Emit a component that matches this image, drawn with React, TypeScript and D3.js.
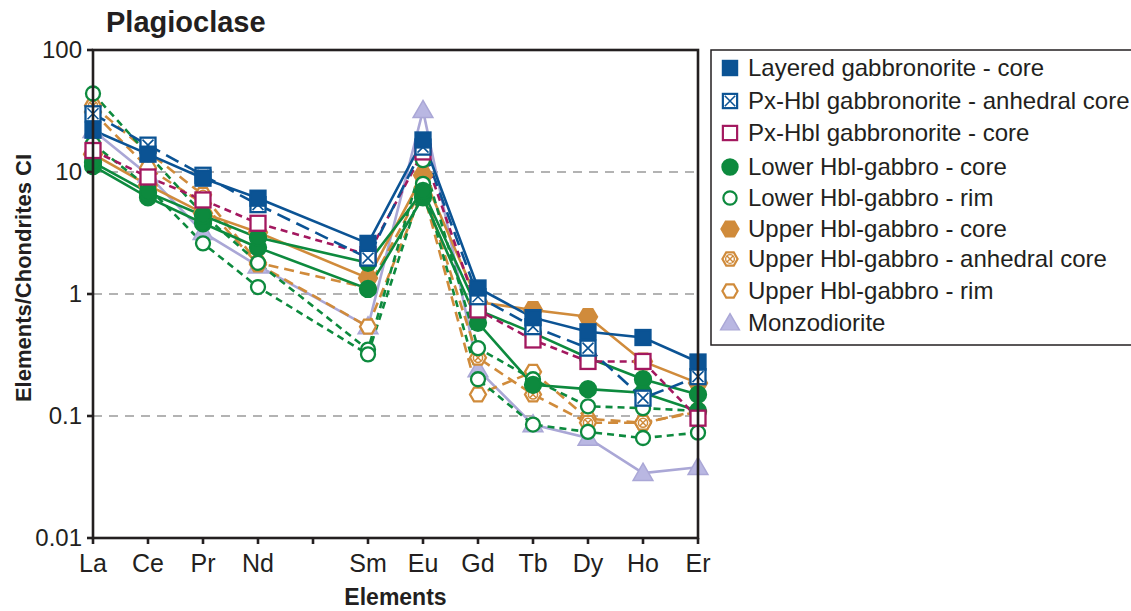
import React from "react";
import * as d3 from "d3";

// REE order, Pm is an empty slot on the axis
const elements = ["La", "Ce", "Pr", "Nd", "Pm", "Sm", "Eu", "Gd", "Tb", "Dy", "Ho", "Er"];
const plotted = ["La", "Ce", "Pr", "Nd", "Sm", "Eu", "Gd", "Tb", "Dy", "Ho", "Er"];
const yTicks = [0.01, 0.1, 1, 10, 100];
const gridLines = [0.1, 1, 10];

// values per sample, in plotted order
const layeredCore = [[22, 14, 8.9, 6.1, 2.6, 18.3, 1.12, 0.64, 0.49, 0.44, 0.277]];
const pxAnhedral = [[30, 16.6, 9.4, 5.4, 1.97, 16, 0.95, 0.54, 0.36, 0.14, 0.21]];
const pxCore = [[15, 9.1, 5.9, 3.8, 2.1, 14.6, 0.74, 0.42, 0.28, 0.28, 0.096]];
const lowerCore = [
  [11.2, 6.2, 3.8, 2.4, 1.1, 6.2, 0.58, 0.18, 0.166, 0.155, 0.11],
  [12, 6.8, 4.4, 2.9, 1.8, 7, 0.74, 0.48, 0.3, 0.2, 0.15],
];
const lowerRim = [
  [44, 14, 4.5, 1.8, 0.35, 12.5, 0.36, 0.2, 0.12, 0.116, 0.11],
  [17, 7.5, 2.6, 1.14, 0.32, 8, 0.2, 0.085, 0.074, 0.066, 0.073],
];
const upperCore = [[14, 7.8, 4.6, 3.2, 1.35, 9.4, 0.86, 0.74, 0.65, 0.28, 0.186]];
const upperAnhedral = [[35, 14.6, 6.5, 1.8, 1.12, 7.5, 0.3, 0.15, 0.088, 0.088, 0.108]];
const upperRim = [[31, 10.8, 5.5, 1.75, 0.54, 7, 0.15, 0.23, 0.095, 0.088, 0.11]];
const monzodiorite = [[22, 9.5, 3.2, 1.7, 0.54, 32, 0.24, 0.085, 0.066, 0.034, 0.038]];

const BLUE = "#0b5394";
const MAG = "#a3185f";
const GREEN = "#0d8a3e";
const ORANGE = "#d08b3b";
const LAV = "#aaa7d6";

const series = [
  { name: "Layered gabbronorite - core", data: layeredCore, color: BLUE, dash: "", marker: "square", fill: true },
  { name: "Px-Hbl gabbronorite - anhedral core", data: pxAnhedral, color: BLUE, dash: "14,7", marker: "squareX", fill: false },
  { name: "Px-Hbl gabbronorite - core", data: pxCore, color: MAG, dash: "7,5", marker: "square", fill: false },
  { name: "Lower Hbl-gabbro - core", data: lowerCore, color: GREEN, dash: "", marker: "circle", fill: true },
  { name: "Lower Hbl-gabbro - rim", data: lowerRim, color: GREEN, dash: "7,5", marker: "circle", fill: false },
  { name: "Upper Hbl-gabbro - core", data: upperCore, color: ORANGE, dash: "", marker: "hex", fill: true },
  { name: "Upper Hbl-gabbro - anhedral core", data: upperAnhedral, color: ORANGE, dash: "10,6", marker: "hexX", fill: false },
  { name: "Upper Hbl-gabbro - rim", data: upperRim, color: ORANGE, dash: "10,6", marker: "hex", fill: false },
  { name: "Monzodiorite", data: monzodiorite, color: LAV, dash: "", marker: "triangle", fill: true },
];

const W = 1131;
const H = 611;
const left = 93, right = 698, top = 50, bottom = 538;

const x = d3.scalePoint().domain(elements).range([left, right]);
const y = d3.scaleLog().domain([0.01, 100]).range([bottom, top]);

const hexPath = (r: number) => {
  const pts: [number, number][] = d3.range(6).map((i) => [r * Math.cos((Math.PI / 3) * i), r * Math.sin((Math.PI / 3) * i)]);
  return d3.line()(pts) + "Z";
};

function Marker({ kind, color, fill, cx, cy, s = 1 }: any) {
  const t = `translate(${cx},${cy}) scale(${s})`;
  const sw = 2.3;
  if (kind === "square" || kind === "squareX") {
    return (
      <g transform={t}>
        <rect x={-7.5} y={-7.5} width={15} height={15} fill={fill ? color : "#fff"} stroke={color} strokeWidth={sw} />
        {kind === "squareX" && <path d="M-5.5,-5.5L5.5,5.5M5.5,-5.5L-5.5,5.5" stroke={color} strokeWidth={1.6} />}
      </g>
    );
  }
  if (kind === "circle") {
    return (
      <g transform={t}>
        <circle r={fill ? 8 : 7} fill={fill ? color : "#fff"} stroke={color} strokeWidth={sw} />
      </g>
    );
  }
  if (kind === "hex" || kind === "hexX") {
    return (
      <g transform={t}>
        <path d={hexPath(fill ? 9 : 8)} fill={fill ? color : "#fff"} stroke={color} strokeWidth={sw} />
        {kind === "hexX" && (
          <>
            <circle r={4.6} fill="none" stroke={color} strokeWidth={1.5} />
            <path d="M-3.2,-3.2L3.2,3.2M3.2,-3.2L-3.2,3.2" stroke={color} strokeWidth={1.5} />
          </>
        )}
      </g>
    );
  }
  const tri = d3.symbol().type(d3.symbolTriangle).size(170)();
  return (
    <g transform={t}>
      <path d={tri || ""} transform="translate(0,1.5)" fill="#b9b7e2" stroke={color} strokeWidth={1.5} />
    </g>
  );
}

export default function App() {
  const line = d3
    .line<number>()
    .x((_, i) => x(plotted[i]) as number)
    .y((d) => y(d));
  const order = [...series].reverse();
  const legendY = [68, 101, 133, 167, 198, 229, 259, 291, 323];
  const narrow = "'Liberation Sans Narrow', 'Arial Narrow', sans-serif";
  const sans = "'Liberation Sans', Arial, Helvetica, sans-serif";

  return (
    <svg width={W} height={H} style={{ position: "absolute", left: 0, top: 0 }}>
      <rect width={W} height={H} fill="#fff" />
      <text x={106} y={32} fontFamily={sans} fontWeight="bold" fontSize={29} fill="#231f20">
        Plagioclase
      </text>

      {gridLines.map((g) => (
        <line key={g} x1={left} x2={right} y1={y(g)} y2={y(g)} stroke="#9a9a9a" strokeWidth={1.3} strokeDasharray="9,7" />
      ))}

      {order.map((s) =>
        s.data.map((row, j) => (
          <path key={s.name + j} d={line(row) || ""} fill="none" stroke={s.color} strokeWidth={2.6} strokeDasharray={s.dash} />
        ))
      )}
      {order.map((s) =>
        s.data.map((row, j) =>
          row.map((v, i) => (
            <Marker key={s.name + j + "-" + i} kind={s.marker} color={s.color} fill={s.fill} cx={x(plotted[i])} cy={y(v)} />
          ))
        )
      )}

      {/* frame */}
      <rect x={left} y={top} width={right - left} height={bottom - top} fill="none" stroke="#231f20" strokeWidth={2.6} />
      {yTicks.map((t) => (
        <g key={t}>
          <line x1={left - 6} x2={left} y1={y(t)} y2={y(t)} stroke="#231f20" strokeWidth={2.6} />
          <text x={left - 11} y={y(t) + 8} textAnchor="end" fontFamily={sans} fontSize={24} fill="#231f20">
            {t}
          </text>
        </g>
      ))}
      {elements.map((e) => (
        <g key={e}>
          <line x1={x(e)} x2={x(e)} y1={bottom} y2={bottom + 6} stroke="#231f20" strokeWidth={2.6} />
          {e !== "Pm" && (
            <text x={x(e)} y={bottom + 34} textAnchor="middle" fontFamily={narrow} fontSize={25} fill="#231f20">
              {e}
            </text>
          )}
        </g>
      ))}
      <text x={(left + right) / 2} y={605} textAnchor="middle" fontFamily={narrow} fontWeight="bold" fontSize={23} fill="#231f20">
        Elements
      </text>
      <text
        transform={`translate(31,${(top + bottom) / 2 - 16}) rotate(-90)`}
        textAnchor="middle"
        fontFamily={sans}
        fontWeight="bold"
        fontSize={22}
        fill="#231f20"
      >
        Elements/Chondrites CI
      </text>

      {/* legend */}
      <rect x={711} y={50} width={440} height={295} fill="#fff" stroke="#231f20" strokeWidth={1.5} />
      {series.map((s, i) => (
        <g key={s.name}>
          <Marker kind={s.marker} color={s.color} fill={s.fill} cx={730} cy={legendY[i]} s={0.95} />
          <text x={748} y={legendY[i] + 8} fontFamily={sans} fontSize={24} fill="#231f20">
            {s.name}
          </text>
        </g>
      ))}
    </svg>
  );
}
